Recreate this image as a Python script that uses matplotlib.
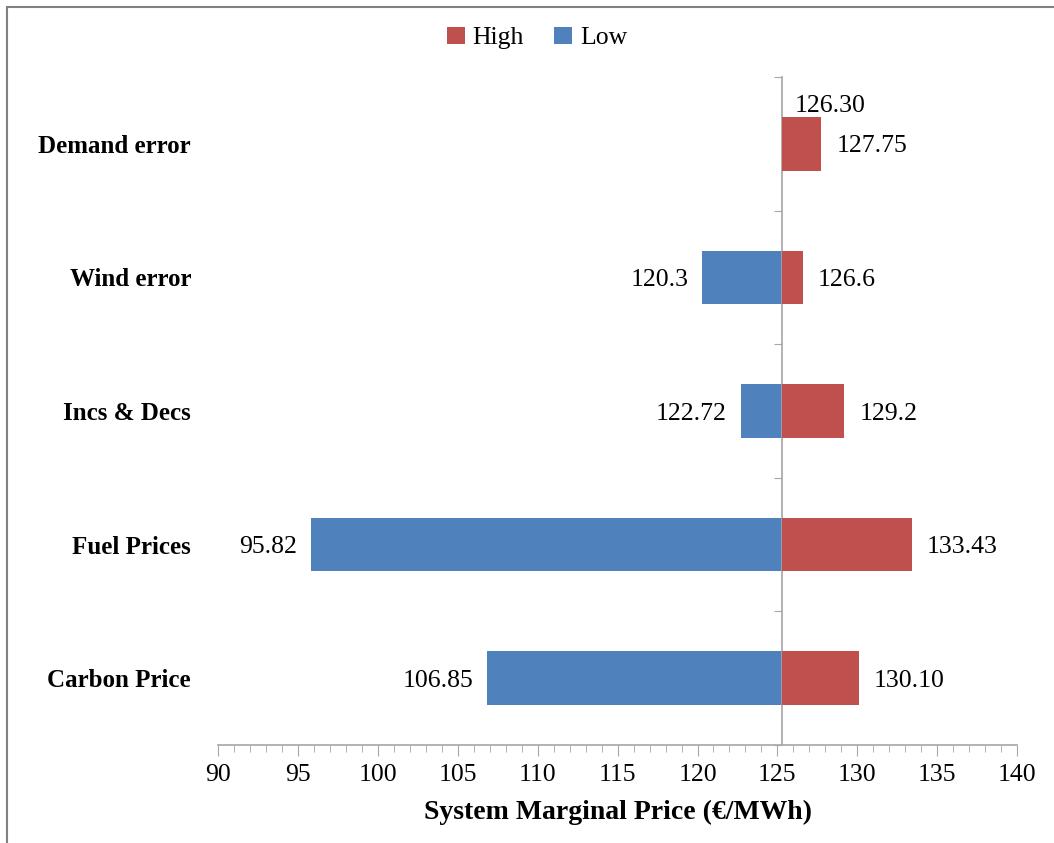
import matplotlib
matplotlib.use('Agg')
import matplotlib.pyplot as plt
from matplotlib.patches import Rectangle
from matplotlib.ticker import MultipleLocator, FixedLocator
from matplotlib.transforms import blended_transform_factory

categories = ['Carbon Price', 'Fuel Prices', 'Incs & Decs', 'Wind error', 'Demand error']
base = 125.3
low_vals = [106.85, 95.82, 122.72, 120.3, 126.30]
high_vals = [130.10, 133.43, 129.2, 126.6, 127.75]
low_labels = ['106.85', '95.82', '122.72', '120.3', '126.30']
high_labels = ['130.10', '133.43', '129.2', '126.6', '127.75']

red = '#C0504D'
blue = '#4F81BD'
grey = '#A6A6A6'

plt.rcParams['font.family'] = ['Liberation Serif', 'DejaVu Serif']

fig = plt.figure(figsize=(10.54, 8.43), dpi=100)
ax = fig.add_axes([218.3 / 1054, 1 - 745 / 843, (1017 - 218.3) / 1054, (745 - 77) / 843])

ys = list(range(len(categories)))
h = 0.4
low_w = [v - base for v in low_vals]
high_w = [v - base for v in high_vals]
ax.barh(ys, low_w, left=base, height=h, color=blue, label='Low', zorder=2)
ax.barh(ys, high_w, left=base, height=h, color=red, label='High', zorder=3)

fs = 18.5
# data labels
for y, v, s in zip(ys, low_vals, low_labels):
    if v < base:
        ax.annotate(s, (v, y), xytext=(-14, 0), textcoords='offset pixels',
                    ha='right', va='center_baseline', fontsize=fs)
    else:
        ax.annotate(s, (v, y), xytext=(-3, 40), textcoords='offset pixels',
                    ha='left', va='center_baseline', fontsize=fs)
for y, v, s in zip(ys, high_vals, high_labels):
    ax.annotate(s, (v, y), xytext=(15, 0), textcoords='offset pixels',
                ha='left', va='center_baseline', fontsize=fs)

# category labels at far left
tr = blended_transform_factory(fig.transFigure, ax.transData)
for y, c in zip(ys, categories):
    ax.text(191 / 1054, y, c, transform=tr, ha='right', va='center_baseline',
            fontsize=18, fontweight='bold')

ax.set_xlim(90, 140)
ax.set_ylim(-0.5, 4.5)
ax.xaxis.set_major_locator(MultipleLocator(5))
ax.xaxis.set_minor_locator(MultipleLocator(1))
ax.tick_params(axis='x', which='major', direction='out', length=8, color=grey, labelsize=fs, pad=6)
ax.tick_params(axis='x', which='minor', direction='out', length=5, color=grey)

# vertical axis at the base value with ticks between categories
ax.spines['left'].set_position(('data', base))
ax.spines['left'].set_color(grey)
ax.spines['left'].set_linewidth(1.2)
ax.spines['bottom'].set_color(grey)
ax.spines['bottom'].set_linewidth(1.2)
ax.spines['top'].set_visible(False)
ax.spines['right'].set_visible(False)
ax.yaxis.set_major_locator(FixedLocator([-0.5, 0.5, 1.5, 2.5, 3.5, 4.5]))
ax.yaxis.set_ticklabels([])
ax.tick_params(axis='y', direction='out', length=6, color=grey)

ax.set_xlabel('System Marginal Price (€/MWh)', fontsize=20, fontweight='bold', labelpad=10)

handles, labels = ax.get_legend_handles_labels()
fig.legend(handles[::-1], labels[::-1], loc='center', bbox_to_anchor=(537 / 1054, 1 - 38 / 843),
           ncol=2, frameon=False, fontsize=fs, handlelength=0.7, handleheight=0.7,
           handletextpad=0.3, columnspacing=1.2)

fig.patches.append(Rectangle((7.3 / 1054, -0.1), 1.2, 1 - 6.7 / 843 + 0.1, transform=fig.transFigure,
                             fill=False, edgecolor='#808080', linewidth=1.5))

fig.savefig('out.png', dpi=100)
